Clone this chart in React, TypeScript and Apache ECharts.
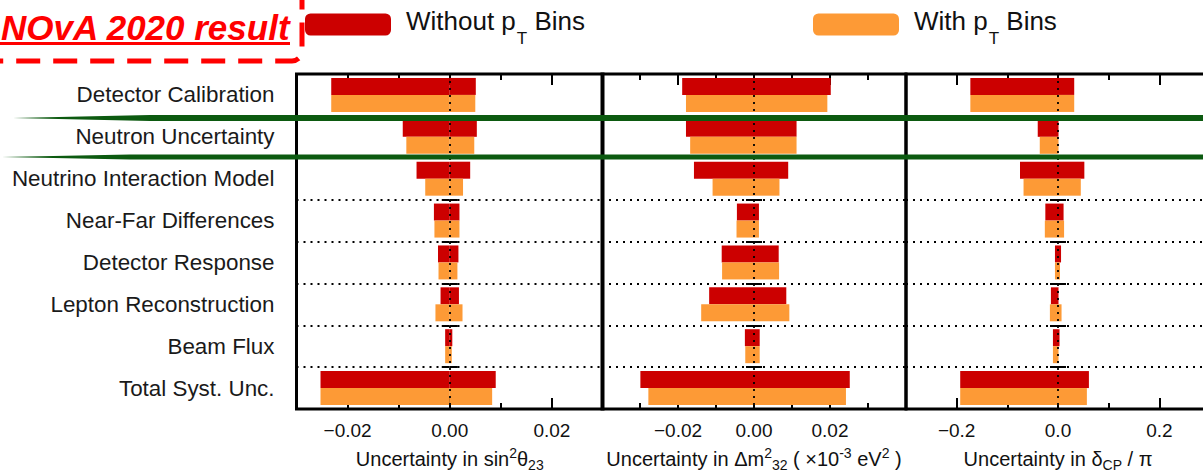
import React, { useEffect, useRef } from 'react';
import * as echarts from 'echarts';

const categories = [
  'Detector Calibration',
  'Neutron Uncertainty',
  'Neutrino Interaction Model',
  'Near-Far Differences',
  'Detector Response',
  'Lepton Reconstruction',
  'Beam Flux',
  'Total Syst. Unc.',
];

const seriesNames = ['Without pT Bins', 'With pT Bins'];

// sin^2 theta_23
const th23WithoutLow = [-0.0232, -0.0092, -0.0065, -0.0031, -0.0023, -0.0018, -0.0009, -0.0253];
const th23WithoutHigh = [0.0051, 0.0053, 0.004, 0.0019, 0.0017, 0.0018, 0.0005, 0.009];
const th23WithLow = [-0.0232, -0.0085, -0.0048, -0.003, -0.0022, -0.0028, -0.0009, -0.0253];
const th23WithHigh = [0.005, 0.0048, 0.0026, 0.0019, 0.0015, 0.0025, 0.0004, 0.0083];

// Delta m^2_32 (x1e-3 eV^2)
const dm32WithoutLow = [-0.0189, -0.0179, -0.0158, -0.0045, -0.0085, -0.0118, -0.0024, -0.0299];
const dm32WithoutHigh = [0.0202, 0.0112, 0.009, 0.0013, 0.0065, 0.0085, 0.0015, 0.0252];
const dm32WithLow = [-0.0179, -0.0168, -0.0109, -0.0046, -0.0084, -0.0139, -0.0023, -0.0278];
const dm32WithHigh = [0.0193, 0.0112, 0.0067, 0.0013, 0.0066, 0.0093, 0.0015, 0.0242];

// delta_CP / pi
const dcpWithoutLow = [-0.173, -0.04, -0.075, -0.025, -0.006, -0.014, -0.01, -0.193];
const dcpWithoutHigh = [0.032, 0.001, 0.052, 0.011, 0.006, 0.001, 0.003, 0.061];
const dcpWithLow = [-0.173, -0.036, -0.068, -0.026, -0.006, -0.016, -0.01, -0.193];
const dcpWithHigh = [0.032, 0.001, 0.045, 0.012, 0.004, 0.007, 0.001, 0.057];

const xMins = [-0.03, -0.04, -0.3];
const xMaxs = [0.03, 0.04, 0.3];
const majorTicks = [
  [-0.02, 0, 0.02],
  [-0.02, 0, 0.02],
  [-0.2, 0, 0.2],
];
const minorTicks = [
  [-0.01, 0.01],
  [-0.03, -0.01, 0.01, 0.03],
  [-0.1, 0.1],
];
const tickDecimals = [2, 2, 1];
const axisNames = [
  '{n|Uncertainty in sin}{sup|2}{n|θ}{sub|23}',
  '{n|Uncertainty in Δm}{sup|2}{sub|32}{n| ( ×10}{sup|-3}{n| eV}{sup|2}{n| )}',
  '{n|Uncertainty in δ}{sub|CP}{n| / π}',
];

const panelData = [
  [th23WithoutLow, th23WithoutHigh, th23WithLow, th23WithHigh],
  [dm32WithoutLow, dm32WithoutHigh, dm32WithLow, dm32WithHigh],
  [dcpWithoutLow, dcpWithoutHigh, dcpWithLow, dcpWithHigh],
];

const RED = '#cc0000';
const ORANGE = '#fd9a36';
const FONT = '"Liberation Sans", Arial, Helvetica, sans-serif';

const gridLefts = [296.5, 602, 906];
const gridWidths = [306.5, 304, 304];
const gridTop = 74;
const gridHeight = 335;

function fmt(v: number, d: number) {
  const s = Math.abs(v).toFixed(d);
  return (v < -1e-9 ? '\u2212' : '') + s;
}

export default function App() {
  const ref = useRef<HTMLDivElement>(null);
  useEffect(() => {
    if (!ref.current) return;
    const chart = echarts.init(ref.current, null, { renderer: 'svg' });

    const grids: any[] = [];
    const xAxes: any[] = [];
    const yAxes: any[] = [];
    const series: any[] = [];

    for (let i = 0; i < 3; i++) {
      grids.push({
        left: gridLefts[i],
        top: gridTop,
        width: gridWidths[i],
        height: gridHeight,
        show: true,
        borderColor: '#000',
        borderWidth: 3,
        backgroundColor: 'transparent',
        containLabel: false,
        outerBoundsMode: 'none',
      });
      const base = {
        type: 'value',
        gridIndex: i,
        min: xMins[i],
        max: xMaxs[i],
        axisLine: { show: false },
        splitLine: { show: false },
      };
      xAxes.push({
        ...base,
        position: 'bottom',
        axisTick: {
          show: true,
          inside: true,
          length: 11,
          customValues: majorTicks[i],
          lineStyle: { color: '#000', width: 2 },
        },
        axisLabel: {
          show: true,
          customValues: majorTicks[i],
          formatter: (v: number) => fmt(v, tickDecimals[i]),
          fontSize: 19,
          fontFamily: FONT,
          color: '#111',
          margin: 12,
        },
        name: axisNames[i],
        nameLocation: 'middle',
        nameGap: 38,
        nameTextStyle: {
          fontFamily: FONT,
          fontSize: 20,
          color: '#111',
          rich: {
            n: { fontSize: 20, lineHeight: 23, fontFamily: FONT, color: '#111' },
            sup: { fontSize: 14, lineHeight: 15, padding: [0, 0, 12, 0], fontFamily: FONT, color: '#111' },
            sub: { fontSize: 14, lineHeight: 15, padding: [12, 0, 0, 0], fontFamily: FONT, color: '#111' },
          },
        },
      });
      xAxes.push({
        ...base,
        position: 'top',
        axisTick: {
          show: true,
          inside: true,
          length: 11,
          customValues: majorTicks[i],
          lineStyle: { color: '#000', width: 2 },
        },
        axisLabel: { show: false },
      });
      xAxes.push({
        ...base,
        position: 'bottom',
        axisTick: {
          show: true,
          inside: true,
          length: 6,
          customValues: minorTicks[i],
          lineStyle: { color: '#000', width: 2 },
        },
        axisLabel: { show: false },
      });
      xAxes.push({
        ...base,
        position: 'top',
        axisTick: {
          show: true,
          inside: true,
          length: 6,
          customValues: minorTicks[i],
          lineStyle: { color: '#000', width: 2 },
        },
        axisLabel: { show: false },
      });

      yAxes.push({
        type: 'category',
        gridIndex: i,
        data: categories,
        inverse: true,
        position: 'left',
        axisLine: { show: false },
        axisTick: { show: true, inside: true, length: 8, lineStyle: { color: '#000', width: 2 } },
        axisLabel: {
          show: i === 0,
          fontSize: 22.4,
          fontFamily: FONT,
          color: '#1a1a1a',
          margin: 22,
        },
        splitLine: { show: true, lineStyle: { color: '#000', width: 1.8, type: [2, 5] } },
      });
      yAxes.push({
        type: 'category',
        gridIndex: i,
        data: categories,
        inverse: true,
        position: 'right',
        axisLine: { show: false },
        axisTick: { show: true, inside: true, length: 8, lineStyle: { color: '#000', width: 2 } },
        axisLabel: { show: false },
        splitLine: { show: false },
      });

      const [wLow, wHigh, pLow, pHigh] = panelData[i];
      const mk = (name: string, data: number[], stack: string, color: string, withMark: boolean) => {
        const s: any = {
          type: 'bar',
          name,
          data,
          stack,
          xAxisIndex: i * 4,
          yAxisIndex: i * 2,
          barWidth: 17,
          barGap: '0%',
          itemStyle: { color },
          emphasis: { disabled: true },
        };
        if (withMark) {
          s.markLine = {
            silent: true,
            symbol: 'none',
            label: { show: false },
            lineStyle: { color: '#000', width: 1.8, type: [2, 5] },
            data: [{ xAxis: 0 }],
          };
        }
        return s;
      };
      series.push(mk(seriesNames[0], wLow, 'w' + i, RED, false));
      series.push(mk(seriesNames[0], wHigh, 'w' + i, RED, false));
      series.push(mk(seriesNames[1], pLow, 'p' + i, ORANGE, false));
      series.push(mk(seriesNames[1], pHigh, 'p' + i, ORANGE, true));
    }

    const legendRich = {
      a: { fontSize: 26, lineHeight: 30, padding: [0, 0, 7, 10], fontFamily: FONT, color: '#111' },
      s: { fontSize: 17, lineHeight: 20, padding: [28, 0, 0, 1], fontFamily: FONT, color: '#111' },
      b: { fontSize: 26, lineHeight: 30, padding: [0, 0, 7, 0], fontFamily: FONT, color: '#111' },
    };
    const legendFormatter = (name: string) =>
      name === seriesNames[0] ? '{a|Without p}{s|T}{b| Bins}' : '{a|With p}{s|T}{b| Bins}';

    const legendBase = {
      top: 2,
      padding: 0,
      itemWidth: 86,
      itemHeight: 22,
      icon: 'roundRect',
      selectedMode: false,
      formatter: legendFormatter,
      textStyle: { fontSize: 26, fontFamily: FONT, color: '#111', rich: legendRich },
    };

    const option: any = {
      animation: false,
      backgroundColor: '#fff',
      textStyle: { fontFamily: FONT },
      legend: [
        { ...legendBase, data: [seriesNames[0]], left: 305 },
        { ...legendBase, data: [seriesNames[1]], left: 813 },
      ],
      grid: grids,
      xAxis: xAxes,
      yAxis: yAxes,
      series,
      graphic: [
        {
          type: 'rect',
          z: 50,
          silent: true,
          shape: { x: -30, y: -30, width: 332, height: 91, r: 10 },
          style: { fill: 'none', stroke: '#ff0000', lineWidth: 5, lineDash: [24, 13] },
        },
        {
          type: 'text',
          z: 50,
          silent: true,
          x: 1,
          y: 27,
          style: {
            text: 'NOvA 2020 result',
            fontSize: 35,
            fontWeight: 'bold',
            fontStyle: 'italic',
            fontFamily: FONT,
            fill: '#ff0000',
            verticalAlign: 'middle',
            align: 'left',
          },
        },
        {
          type: 'line',
          z: 50,
          silent: true,
          shape: { x1: 0, y1: 43.5, x2: 290, y2: 43.5 },
          style: { stroke: '#ff0000', lineWidth: 3 },
        },
        {
          type: 'polygon',
          z: 60,
          silent: true,
          shape: { points: [[13, 118], [150, 115], [1203, 115], [1203, 121], [150, 121]] },
          style: { fill: '#0c5a10' },
        },
        {
          type: 'polygon',
          z: 60,
          silent: true,
          shape: { points: [[2, 157], [130, 154.5], [1203, 154.5], [1203, 159.5], [130, 159.5]] },
          style: { fill: '#0c5a10' },
        },
      ],
    };

    chart.setOption(option);
    return () => chart.dispose();
  }, []);

  return (
    <div
      ref={ref}
      style={{ position: 'absolute', left: 0, top: 0, width: 1203, height: 473 }}
    />
  );
}
